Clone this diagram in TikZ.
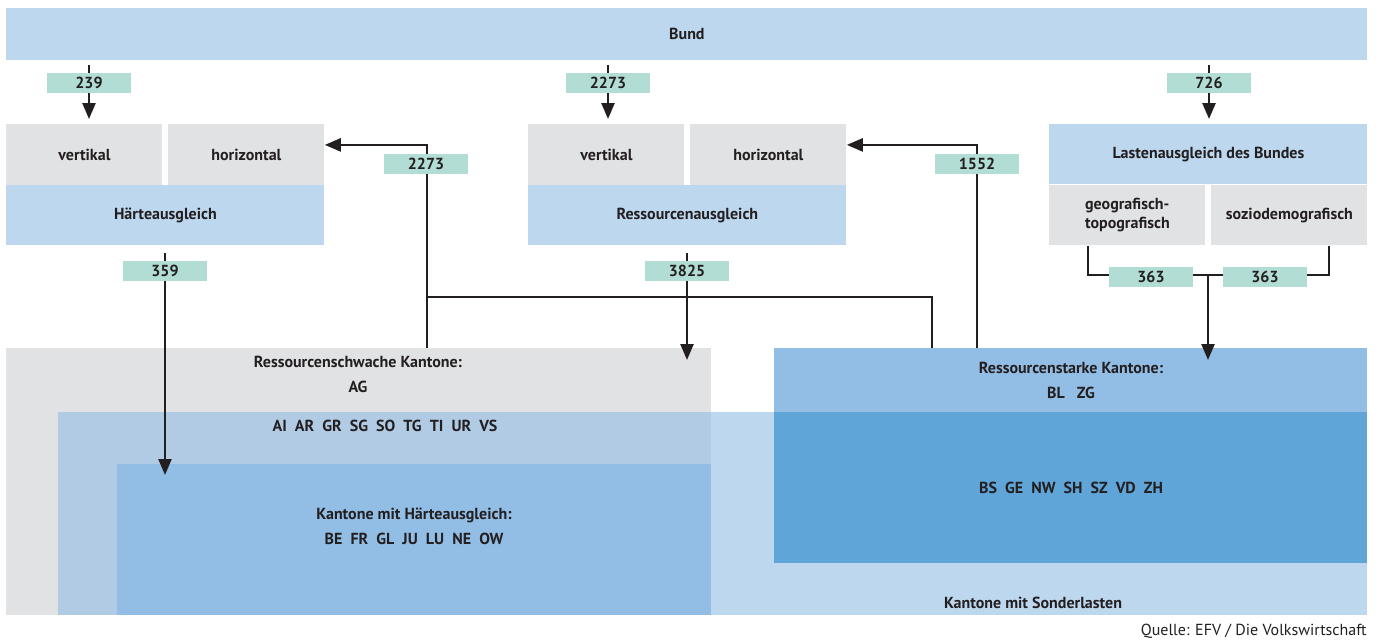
\documentclass[tikz,border=0pt]{standalone}
\usepackage{fontspec}
\setmainfont{PT Sans}
\usetikzlibrary{arrows.meta}

\definecolor{hellblau}{HTML}{BDD7EF}
\definecolor{mittelblau}{HTML}{92BEE5}
\definecolor{dunkelblau}{HTML}{5FA5D8}
\definecolor{mischblau}{HTML}{B0CBE3}
\definecolor{hellgrau}{HTML}{E1E2E4}
\definecolor{mint}{HTML}{B2DDD4}
\definecolor{schrift}{HTML}{231F20}

\pgfdeclarelayer{flaechen}
\pgfdeclarelayer{linien}
\pgfsetlayers{flaechen,linien,main}

\tikzset{
	box/.style={anchor=north west, inner sep=0pt, text=schrift, font=\fontsize{8}{9.5}\selectfont\bfseries},
	zahl/.style={fill=mint, inner sep=0pt, minimum width=42pt, minimum height=10pt, text=schrift, font=\fontsize{8}{9}\selectfont\bfseries},
	txt/.style={inner sep=0pt, text=schrift, font=\fontsize{8}{9}\selectfont\bfseries},
	linie/.style={line width=1.2pt, draw=schrift},
	pfeil/.style={linie, -{Triangle[length=8pt,width=6.5pt]}},
	luft/.style={shorten <=2pt, shorten >=2.5pt}
}

\begin{document}
\begin{tikzpicture}[x=0.5pt,y=-0.5pt]
	\useasboundingbox (0,0) rectangle (1379,639);
	\begin{pgfonlayer}{flaechen}
	% obere Ebene
	\node[box, fill=hellblau, minimum width=680.5pt, minimum height=26pt] (bund) at (6,8) {Bund};
	\node[box, fill=hellgrau, minimum width=78pt, minimum height=30.5pt] (vert1) at (6,124) {vertikal};
	\node[box, fill=hellgrau, minimum width=78pt, minimum height=30.5pt] (hor1) at (168,124) {horizontal};
	\node[box, fill=hellblau, minimum width=159pt, minimum height=30pt] (haerte) at (6,185) {Härteausgleich};
	\node[box, fill=hellgrau, minimum width=78pt, minimum height=30.5pt] (vert2) at (528,124) {vertikal};
	\node[box, fill=hellgrau, minimum width=78pt, minimum height=30.5pt] (hor2) at (690,124) {horizontal};
	\node[box, fill=hellblau, minimum width=159pt, minimum height=30pt] (ress) at (528,185) {Ressourcenausgleich};
	\node[box, fill=hellblau, minimum width=159pt, minimum height=30pt] (lasten) at (1049,124) {Lastenausgleich des Bundes};
	\node[box, fill=hellgrau, minimum width=78pt, minimum height=30pt, align=left] (geo) at (1049,185) {geografisch-\\topografisch};
	\node[box, fill=hellgrau, minimum width=78pt, minimum height=30pt] (sozio) at (1211,185) {soziodemografisch};
	% Kantone
	\node[box, fill=hellgrau, minimum width=352.5pt, minimum height=133.5pt] (schwach) at (6,348) {};
	\node[box, fill=hellblau, minimum width=654.5pt, minimum height=101.5pt] (sonder) at (58,412) {};
	\node[box, fill=mischblau, minimum width=326.5pt, minimum height=101.5pt] (misch) at (58,412) {};
	\node[box, fill=mittelblau, minimum width=297pt, minimum height=75.5pt] (haertek) at (117,464) {};
	\node[box, fill=mittelblau, minimum width=296.5pt, minimum height=107.5pt] (starke) at (774,348) {};
	\node[box, fill=dunkelblau, minimum width=296.5pt, minimum height=75.5pt] (starkson) at (774,412) {};
	\end{pgfonlayer}

	\node[txt] (tschwach) at (358,362) {Ressourcenschwache Kantone:};
	\node[txt] (tag) at (358,387) {AG};
	\node[txt] (tmisch) at (385,426) {AI\ \ AR\ \ GR\ \ SG\ \ SO\ \ TG\ \ TI\ \ UR\ \ VS};
	\node[txt] (thaerte) at (414,515) {Kantone mit Härteausgleich:};
	\node[txt] (tbe) at (414,539) {BE\ \ FR\ \ GL\ \ JU\ \ LU\ \ NE\ \ OW};
	\node[txt] (tstarke) at (1071,368) {Ressourcenstarke Kantone:};
	\node[txt] (tbl) at (1071,393) {BL\ \ \ ZG};
	\node[txt] (tbs) at (1071,488) {BS\ \ GE\ \ NW\ \ SH\ \ SZ\ \ VD\ \ ZH};
	\node[txt] (tsonder) at (1033,603) {Kantone mit Sonderlasten};
	\node[txt, font=\fontsize{8}{9}\selectfont, anchor=east] (quelle) at (1367,631) {Quelle: EFV / Die Volkswirtschaft};

	% Betraege
	\node[zahl] (n239) at (89,83) {239};
	\node[zahl] (n2273a) at (608,83) {2273};
	\node[zahl] (n726) at (1209,83) {726};
	\node[zahl] (n2273b) at (426,164) {2273};
	\node[zahl] (n1552) at (977,164) {1552};
	\node[zahl] (n359) at (165,271) {359};
	\node[zahl] (n3825) at (687,271) {3825};
	\node[zahl] (n363a) at (1151,277) {363};
	\node[zahl] (n363b) at (1265,277) {363};

	% Verbindungen
	\coordinate (hatip) at (165,475);
	\coordinate (rtip) at (687,360);
	\coordinate (stip) at (1208,360);
	\coordinate (j1) at (427,297);
	\coordinate (j2) at (932,297);
	\coordinate (g1) at (1088,275);
	\coordinate (g2) at (1329,275);
	\coordinate (jr) at (1208,275);
	\begin{pgfonlayer}{linien}
	\draw[pfeil, luft] (bund.south -| n239) -- (vert1.north -| n239);
	\draw[pfeil, luft] (bund.south -| n2273a) -- (vert2.north -| n2273a);
	\draw[pfeil, luft] (bund.south -| n726) -- (lasten.north -| n726);
	\draw[pfeil, shorten <=3.5pt] (haerte.south -| hatip) -- (hatip);
	\draw[pfeil, shorten <=3.5pt] (ress.south -| rtip) -- (rtip);
	\draw[pfeil] (schwach.north -| j1) |- ([yshift=5pt]hor1.east);
	\draw[linie] (j1) -- (j2) -- (j2 |- starke.north);
	\draw[pfeil] (starke.north -| n1552) |- ([yshift=5pt]hor2.east);
	\draw[linie] (geo.south -| g1) -- (g1) -- (g2) -- (sozio.south -| g2);
	\draw[pfeil] (jr) -- (stip);
	\end{pgfonlayer}
\end{tikzpicture}
\end{document}
